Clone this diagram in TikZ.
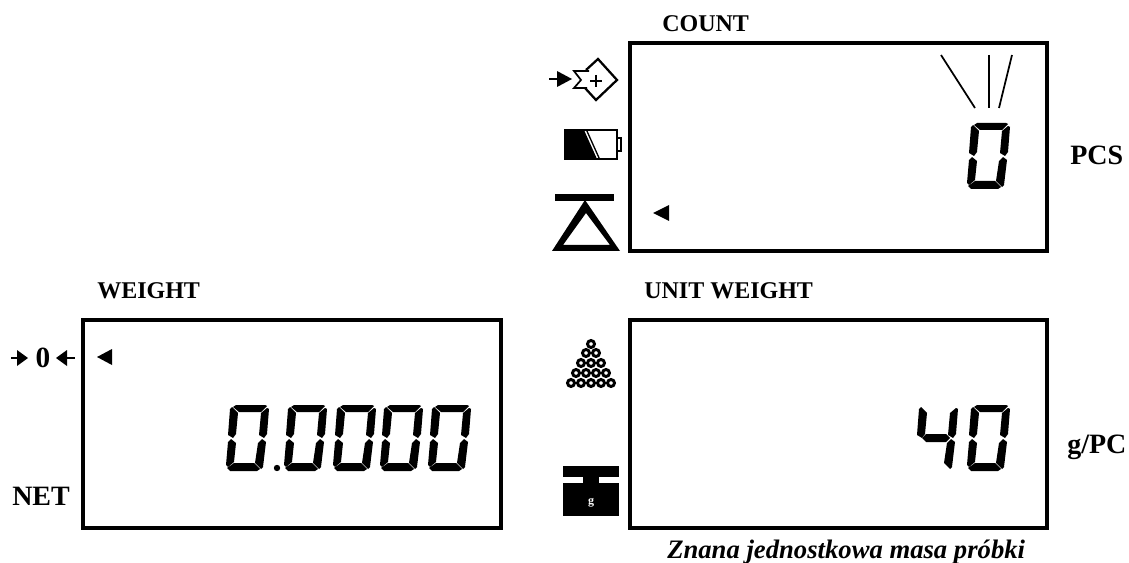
\documentclass[tikz,border=0pt]{standalone}
\usepackage{fontspec}
\setmainfont{Liberation Serif}
\newcommand{\segA}{\fill (7,2) -- (10,0) -- (39,0) -- (41,1) -- (35,7) -- (13,7) -- cycle;}
\newcommand{\segB}{\fill (35,8) -- (41,3) -- (43,4) -- (41,29) -- (38,33) -- (33,30) -- cycle;}
\newcommand{\segC}{\fill (32,38) -- (36,34) -- (40,37) -- (37,62) -- (35,64) -- (29,58) -- cycle;}
\newcommand{\segD}{\fill (1,63) -- (8,58) -- (28,58) -- (34,64) -- (31,66) -- (4,66) -- cycle;}
\newcommand{\segE}{\fill (2,37) -- (5,34) -- (10,38) -- (8,57) -- (2,62) -- (0,60) -- cycle;}
\newcommand{\segF}{\fill (4,4) -- (6,2) -- (12,8) -- (10,29) -- (7,33) -- (2,30) -- cycle;}
\newcommand{\segG}{\fill (7,33) -- (11,29) -- (31,29) -- (35,33) -- (31,37) -- (11,37) -- cycle;}
\tikzset{
  zerodigit/.pic={\segA \segB \segC \segD \segE \segF},
  fourdigit/.pic={\segB \segC \segF \segG},
  lcdbox/.style={draw,line width=2.4pt},
  caplabel/.style={anchor=base west,inner sep=0pt,font=\fontsize{18}{20}\selectfont\bfseries},
  unitlabel/.style={anchor=base west,inner sep=0pt,font=\fontsize{21}{24}\selectfont\bfseries},
  ball/.style={draw,line width=2.2pt,fill=white},
}
\begin{document}
\begin{tikzpicture}[x=.75pt,y=-.75pt]
\useasboundingbox (0,0) rectangle (1129,563);
% displays
\draw [lcdbox] (630,43) rectangle (1047,251);
\draw [lcdbox] (83,320) rectangle (501,528);
\draw [lcdbox] (630,320) rectangle (1047,528);
% labels
\node [caplabel] (count) at (662,32) {COUNT};
\node [caplabel] (weight) at (97,298) {WEIGHT};
\node [caplabel] (unitweight) at (644,298) {UNIT WEIGHT};
\node [unitlabel] (pcs) at (1070,165) {PCS};
\node [unitlabel] (net) at (12,505) {NET};
\node [unitlabel] (gpc) at (1067,453) {g/PC};
\node [anchor=base west,inner sep=0pt,font=\fontsize{20}{24}\selectfont\bfseries\itshape] (caption) at (667,558) {Znana jednostkowa masa próbki};
% digits
\pic at (967,123) {zerodigit};
\pic at (915,405) {fourdigit};
\pic at (967,405) {zerodigit};
\foreach \x in {226,284,333,380,428}
  \pic at (\x,405) {zerodigit};
\fill (277,468) circle (3.2);
% flash above the count
\draw [line width=1.3pt] (941,55) -- (975,108);
\draw [line width=1.3pt] (989,55) -- (989,108);
\draw [line width=1.3pt] (1012,55) -- (999,108);
% small markers
\fill (653,213) -- (669,205) -- (669,221) -- cycle;
\fill (97,357) -- (112,349) -- (112,365) -- cycle;
% zero mark
\node [inner sep=0pt,anchor=base,font=\fontsize{22}{24}\selectfont\bfseries] (zero) at (43,367) {0};
\draw [line width=2pt] (11,358) -- (20,358);
\fill (28,358) -- (17,350) -- (17,366) -- cycle;
\draw [line width=2pt] (65,358) -- (75,358);
\fill (56,358) -- (67,350) -- (67,366) -- cycle;
% sum key
\draw [line width=2pt] (549,79) -- (560,79);
\fill (572,79) -- (557,71) -- (557,87) -- cycle;
\draw [line width=1.7pt] (586,70) -- (598,59) -- (617,80) -- (596,100) -- (585,88);
\draw [line width=1.3pt] (589,71) -- (574,71) -- (581,80) -- (574,88) -- (587,88);
\draw [line width=.8pt] (596,75) -- (596,87) (590,81) -- (602,81);
% battery
\draw [line width=1pt,fill=white] (565,130) rectangle (617,159);
\fill (565,130) -- (584,130) -- (597,159) -- (565,159) -- cycle;
\draw [line width=1pt] (586.5,130) -- (599.5,159);
\draw [line width=1pt] (617,138) rectangle (621,151);
% pan
\fill (555,194) rectangle (614,201);
\fill [even odd rule] (585,200) -- (552,251) -- (620,251) -- cycle (586,213) -- (563,245) -- (610,245) -- cycle;
% pieces
\foreach \x/\y in {591/344,586/353,596/353,581/363,591/363,601/363,576/373,586/373,596/373,606/373,571/383,581/383,591/383,601/383,611/383}
  \draw [ball] (\x,\y) circle (3.5);
% weight
\fill (563,466) rectangle (619,477);
\fill (583,477) rectangle (599,483);
\fill (563,483) rectangle (619,516);
\node [inner sep=0pt,white,font=\fontsize{9}{10}\selectfont\bfseries] (gram) at (591,503) {g};
\end{tikzpicture}
\end{document}
